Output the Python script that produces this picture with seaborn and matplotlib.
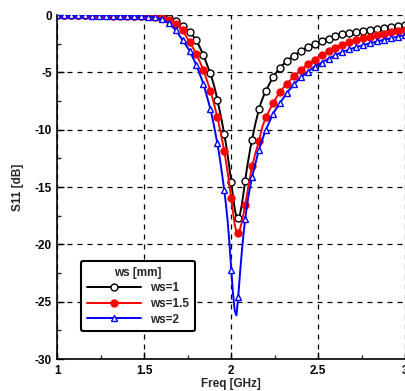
import numpy as np
import pandas as pd
import seaborn as sns
import matplotlib.pyplot as plt
from matplotlib.ticker import MultipleLocator

# -----------------------------
# DATA
# -----------------------------
# frequency grid: 0.04 GHz steps on the tails, 0.01 GHz around the resonance
freq = np.round(np.concatenate([
    np.arange(1.00, 1.885, 0.04),
    np.arange(1.90, 2.195, 0.01),
    np.arange(2.20, 3.005, 0.04),
]), 2)

s11_ws1 = [
    # 1.00 .. 1.88 (step 0.04)
    -0.02, -0.02, -0.02, -0.02, -0.02, -0.03, -0.03, -0.03, -0.03, -0.04, -0.04, -0.05,
    -0.06, -0.07, -0.09, -0.12, -0.25, -0.52, -0.95, -1.45, -2.2, -3.5, -5.1,
    # 1.90 .. 2.19 (step 0.01)
    -6.1, -6.7, -7.4, -8.1, -8.8, -9.6, -10.4, -11.3, -12.3, -13.4,
    -14.6, -15.8, -16.9, -17.6, -17.7, -17.4, -16.6, -15.6, -14.5, -13.4,
    -12.5, -11.6, -10.9, -10.1, -9.4, -8.8, -8.2, -7.7, -7.3, -6.9,
    # 2.20 .. 3.00 (step 0.04)
    -6.6, -5.4, -4.6, -4.0, -3.55, -3.15, -2.8, -2.5, -2.25, -2.05, -1.85,
    -1.7, -1.58, -1.47, -1.37, -1.28, -1.19, -1.1, -1.02, -0.93, -0.85,
]

s11_ws15 = [
    -0.03, -0.03, -0.03, -0.03, -0.03, -0.04, -0.04, -0.04, -0.05, -0.05, -0.06, -0.07,
    -0.08, -0.1, -0.14, -0.22, -0.4, -0.75, -1.35, -2.35, -3.4, -4.8, -6.6,
    -7.7, -8.3, -8.9, -9.6, -10.3, -11.1, -11.9, -12.8, -13.8, -14.9,
    -16.0, -17.2, -18.3, -18.9, -19.0, -18.7, -18.1, -17.4, -16.6, -15.7,
    -14.8, -14.0, -13.2, -12.6, -12.0, -11.5, -11.0, -10.3, -9.7, -9.3,
    -8.9, -7.7, -6.7, -6.0, -5.35, -4.8, -4.3, -3.9, -3.5, -3.15, -2.85,
    -2.6, -2.38, -2.2, -2.03, -1.88, -1.75, -1.63, -1.52, -1.43, -1.34,
]

s11_ws2 = [
    -0.04, -0.04, -0.04, -0.04, -0.04, -0.05, -0.05, -0.05, -0.06, -0.06, -0.07, -0.08,
    -0.1, -0.14, -0.2, -0.35, -0.7, -1.3, -2.2, -3.1, -4.4, -6.0, -8.2,
    -9.6, -10.4, -11.2, -12.1, -13.1, -14.2, -15.3, -16.6, -18.1, -20.0,
    -22.2, -24.3, -25.8, -26.2, -24.6, -22.6, -20.8, -19.2, -17.8, -16.7,
    -15.7, -14.9, -14.1, -13.5, -12.9, -12.3, -11.8, -11.2, -10.8, -10.4,
    -10.0, -8.6, -7.7, -6.8, -6.05, -5.45, -4.95, -4.5, -4.15, -3.8, -3.5,
    -3.22, -3.0, -2.8, -2.62, -2.46, -2.3, -2.16, -2.02, -1.88, -1.74,
]

labels = ["ws=1", "ws=1.5", "ws=2"]
colors = ["black", "red", "blue"]
markers = ["o", "o", "^"]
faces = ["white", "red", "white"]

df = pd.DataFrame({"freq": freq, "ws=1": s11_ws1, "ws=1.5": s11_ws15, "ws=2": s11_ws2})

# markers only on the 0.04 GHz grid
mark_idx = [i for i, f in enumerate(freq) if int(round(f * 100)) % 4 == 0]

# -----------------------------
# STYLE
# -----------------------------
sns.set_style("ticks")
plt.rcParams["font.family"] = ["Liberation Sans", "DejaVu Sans"]
plt.rcParams["font.weight"] = "bold"
plt.rcParams["axes.unicode_minus"] = False

fig = plt.figure(figsize=(4.06, 3.91), dpi=100)
ax = fig.add_axes([57.5 / 406, 32 / 391, 347.5 / 406, 344 / 391])

# -----------------------------
# PLOT
# -----------------------------
for lab, c, m, fc in zip(labels, colors, markers, faces):
    sns.lineplot(data=df, x="freq", y=lab, ax=ax, color=c, lw=1.4,
                 marker=m, markersize=5, markerfacecolor=fc,
                 markeredgecolor=c, markeredgewidth=1.0,
                 markevery=mark_idx, label=lab)

ax.set_xlim(1, 3)
ax.set_ylim(-30, 0)
ax.xaxis.set_major_locator(MultipleLocator(0.5))
ax.xaxis.set_minor_locator(MultipleLocator(0.25))
ax.yaxis.set_major_locator(MultipleLocator(5))
ax.yaxis.set_minor_locator(MultipleLocator(2.5))
ax.set_xticks([1, 1.5, 2, 2.5, 3])
ax.set_xticklabels(["1", "1.5", "2", "2.5", "3"])

ax.grid(True, which="major", color="black", linestyle=(0, (4, 4)), linewidth=0.9)
ax.tick_params(which="major", direction="in", length=5, width=1.0,
               labelsize=8.5, pad=4, colors="black")
ax.tick_params(which="minor", direction="in", length=3, width=1.0)
for lbl in ax.get_xticklabels() + ax.get_yticklabels():
    lbl.set_fontweight("bold")

for side in ["top", "right"]:
    ax.spines[side].set_visible(False)
for side in ["left", "bottom"]:
    ax.spines[side].set_linewidth(1.2)
    ax.spines[side].set_color("black")

ax.set_xlabel("Freq [GHz]", fontsize=8.5, fontweight="bold", labelpad=1)
ax.set_ylabel("S11 [dB]", fontsize=8.5, fontweight="bold", labelpad=8)

leg = ax.legend(title="ws [mm]", loc="upper left", bbox_to_anchor=(0.05, 0.302),
                fontsize=8.5, title_fontsize=8.5, handlelength=4.6,
                frameon=True, fancybox=True, framealpha=1, edgecolor="black",
                borderpad=0.5, labelspacing=0.3)
leg.get_frame().set_linewidth(1.5)
leg.get_title().set_fontweight("bold")
for t in leg.get_texts():
    t.set_fontweight("bold")

fig.savefig("out.png", dpi=100)
